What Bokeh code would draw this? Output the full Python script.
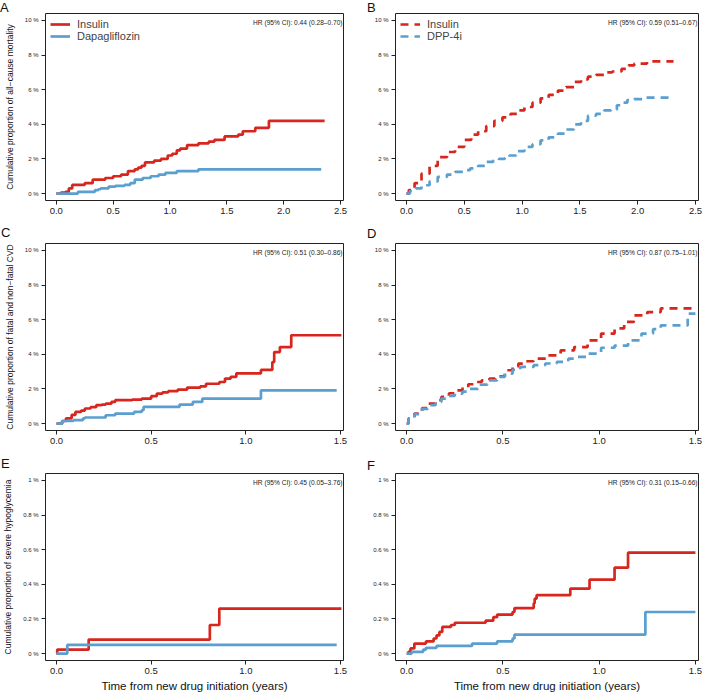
from bokeh.plotting import figure
from bokeh.layouts import gridplot, column
from bokeh.models import Label, FixedTicker, Range1d, Div
from bokeh.embed import file_html
from bokeh.resources import INLINE

FONT = "Liberation Sans"
RED = "#D7261E"
BLUE = "#5A9FD0"

# ---------------- data (cumulative %, step functions) ----------------
A_ins_t = [0, 0.04, 0.08, 0.11, 0.14, 0.25, 0.32, 0.43, 0.5, 0.57, 0.63, 0.69, 0.72, 0.75, 0.78, 0.86, 0.92,
           0.98, 1.02, 1.06, 1.09, 1.15, 1.25, 1.34, 1.39, 1.48, 1.6, 1.64, 1.75, 1.87, 2.36]
A_ins_v = [0, 0.05, 0.1, 0.3, 0.5, 0.6, 0.8, 0.9, 1.0, 1.1, 1.3, 1.4, 1.5, 1.6, 1.8, 1.9, 2.0,
           2.2, 2.3, 2.5, 2.6, 2.8, 2.9, 3.0, 3.1, 3.3, 3.4, 3.6, 3.8, 4.2, 4.2]
A_dap_t = [0, 0.19, 0.34, 0.37, 0.39, 0.46, 0.52, 0.6, 0.65, 0.69, 0.76, 0.83, 0.9, 0.96, 1.06, 1.25, 2.33]
A_dap_v = [0, 0.1, 0.2, 0.25, 0.3, 0.4, 0.45, 0.5, 0.6, 0.8, 0.9, 1.0, 1.1, 1.2, 1.3, 1.4, 1.4]

B_ins_t = [0, 0.02, 0.07, 0.13, 0.2, 0.27, 0.35, 0.42, 0.5, 0.56, 0.62, 0.69, 0.76, 0.83, 0.9, 0.96, 1.02,
           1.09, 1.16, 1.23, 1.31, 1.38, 1.45, 1.51, 1.57, 1.64, 1.71, 1.78, 1.86, 1.92, 1.97, 2.08, 2.31]
B_ins_v = [0, 0.2, 0.6, 1.15, 1.6, 2.1, 2.4, 2.7, 3.1, 3.4, 3.6, 3.9, 4.2, 4.4, 4.6, 4.8, 5.0,
           5.25, 5.5, 5.7, 5.95, 6.15, 6.45, 6.6, 6.75, 6.85, 7.0, 7.05, 7.2, 7.4, 7.5, 7.63, 7.63]
B_dpp_t = [0, 0.03, 0.08, 0.13, 0.2, 0.27, 0.35, 0.42, 0.5, 0.55, 0.62, 0.69, 0.75, 0.8, 0.85, 0.89, 0.95,
           1.02, 1.09, 1.16, 1.23, 1.31, 1.38, 1.45, 1.51, 1.57, 1.64, 1.71, 1.77, 1.82, 1.87, 1.91, 1.97,
           2.05, 2.31]
B_dpp_v = [0, 0.15, 0.3, 0.48, 0.7, 0.96, 1.1, 1.25, 1.35, 1.45, 1.6, 1.83, 1.92, 2.0, 2.05, 2.2, 2.45,
           2.7, 2.85, 3.07, 3.25, 3.46, 3.7, 4.0, 4.2, 4.5, 4.6, 4.8, 4.85, 5.1, 5.25, 5.4, 5.45,
           5.54, 5.54]

C_ins_t = [0, 0.03, 0.05, 0.08, 0.1, 0.13, 0.15, 0.18, 0.21, 0.24, 0.26, 0.29, 0.31, 0.4, 0.45, 0.5, 0.53,
           0.56, 0.59, 0.64, 0.69, 0.76, 0.79, 0.86, 0.89, 0.92, 0.95, 1.08, 1.14, 1.15, 1.18, 1.24, 1.505]
C_ins_v = [0, 0.15, 0.3, 0.5, 0.67, 0.75, 0.87, 0.95, 1.06, 1.1, 1.15, 1.25, 1.35, 1.38, 1.44, 1.58, 1.73,
           1.8, 1.87, 1.96, 2.08, 2.15, 2.3, 2.4, 2.6, 2.7, 2.9, 3.1, 3.55, 4.13, 4.42, 5.1, 5.1]
C_dap_t = [0, 0.03, 0.09, 0.14, 0.15, 0.26, 0.31, 0.41, 0.45, 0.46, 0.65, 0.72, 0.77, 1.08, 1.48]
C_dap_v = [0, 0.15, 0.2, 0.3, 0.35, 0.48, 0.58, 0.67, 0.77, 0.96, 1.1, 1.25, 1.44, 1.92, 1.92]

D_ins_t = [0, 0.01, 0.04, 0.08, 0.11, 0.15, 0.18, 0.22, 0.25, 0.29, 0.32, 0.36, 0.39, 0.43, 0.46, 0.51,
           0.55, 0.58, 0.62, 0.66, 0.73, 0.8, 0.87, 0.94, 1.01, 1.08, 1.13, 1.18, 1.25, 1.32, 1.49]
D_ins_v = [0, 0.3, 0.58, 0.9, 1.15, 1.35, 1.54, 1.75, 1.92, 2.1, 2.27, 2.4, 2.5, 2.6, 2.73, 3.08,
           3.3, 3.46, 3.6, 3.75, 3.94, 4.23, 4.42, 4.8, 5.2, 5.5, 5.87, 6.25, 6.44, 6.65, 6.65]
D_dpp_t = [0, 0.01, 0.04, 0.08, 0.11, 0.15, 0.18, 0.22, 0.25, 0.29, 0.32, 0.37, 0.42, 0.47, 0.51, 0.55,
           0.59, 0.66, 0.72, 0.78, 0.84, 0.89, 0.94, 1.01, 1.08, 1.15, 1.22, 1.28, 1.32, 1.46, 1.5]
D_dpp_v = [0, 0.3, 0.55, 0.85, 1.06, 1.25, 1.44, 1.6, 1.73, 1.85, 2.0, 2.25, 2.5, 2.7, 2.88, 3.1,
           3.27, 3.37, 3.47, 3.56, 3.75, 3.85, 4.04, 4.38, 4.5, 4.8, 5.2, 5.45, 5.67, 6.35, 6.35]

E_ins_t = [0, 0.004, 0.17, 0.81, 0.86, 1.505]
E_ins_v = [0, 0.023, 0.081, 0.165, 0.26, 0.26]
E_dap_t = [0, 0.057, 1.48]
E_dap_v = [0, 0.05, 0.05]

F_ins_t = [0, 0.009, 0.02, 0.04, 0.1, 0.14, 0.155, 0.17, 0.185, 0.23, 0.25, 0.41, 0.45, 0.47, 0.55, 0.56,
           0.66, 0.665, 0.675, 0.85, 0.95, 1.08, 1.15, 1.5]
F_ins_v = [0, 0.01, 0.03, 0.058, 0.07, 0.087, 0.105, 0.125, 0.154, 0.165, 0.178, 0.19, 0.21, 0.225, 0.24,
           0.263, 0.29, 0.317, 0.337, 0.375, 0.427, 0.496, 0.583, 0.583]
F_dpp_t = [0, 0.026, 0.086, 0.1, 0.155, 0.34, 0.47, 0.55, 0.56, 1.24, 1.5]
F_dpp_v = [0, 0.01, 0.023, 0.033, 0.044, 0.058, 0.071, 0.087, 0.11, 0.24, 0.24]

# tick labels
x_ticks_long = [0.0, 0.5, 1.0, 1.5, 2.0, 2.5]
x_ticks_short = [0.0, 0.5, 1.0, 1.5]
y_ticks_pct = [0, 2, 4, 6, 8, 10]
y_labels_pct = ["0 %", "2 %", "4 %", "6 %", "8 %", "10 %"]
y_ticks_small = [0, 0.2, 0.4, 0.6, 0.8, 1.0]
y_labels_small = ["0 %", "0.2 %", "0.4 %", "0.6 %", "0.8 %", "1 %"]

hr_texts = {
    "A": "HR (95% CI): 0.44 (0.28\u20130.70)",
    "B": "HR (95% CI): 0.59 (0.51\u20130.67)",
    "C": "HR (95% CI): 0.51 (0.30\u20130.86)",
    "D": "HR (95% CI): 0.87 (0.75\u20131.01)",
    "E": "HR (95% CI): 0.45 (0.05\u20133.76)",
    "F": "HR (95% CI): 0.31 (0.15\u20130.66)",
}
ylabels = {
    "A": "Cumulative proportion of all\u2212cause mortality",
    "C": "Cumulative proportion of fatal and non\u2212fatal CVD",
    "E": "Cumulative proportion of severe hypoglycemia",
}
xlabel = "Time from new drug initiation (years)"
panel_letters = ["A", "B", "C", "D", "E", "F"]

FRAME_W = 303
FRAME_H = 187


def make_panel(letter, col, row, series, xticks, yticks, ylabs, xr, yr, legend, dashed):
    left = col == 0
    bl = 40
    br = 12 if left else 11
    width = bl + FRAME_W + br
    top = 13
    bottom = 40 if row == 2 else 30
    height = top + FRAME_H + bottom
    p = figure(width=width, height=height, output_backend="svg", toolbar_location=None,
               x_range=Range1d(*xr), y_range=Range1d(*yr),
               min_border_left=bl, min_border_right=br,
               min_border_top=top, min_border_bottom=bottom)
    p.grid.visible = False
    p.outline_line_color = "#222222"
    p.outline_line_width = 1
    p.background_fill_color = "white"
    p.border_fill_color = "white"

    for ax in (p.xaxis[0], p.yaxis[0]):
        ax.axis_line_color = None
        ax.major_tick_line_color = "#222222"
        ax.minor_tick_line_color = None
        ax.major_tick_in = 0
        ax.major_tick_out = 4
        ax.major_label_text_font = FONT
        ax.major_label_text_color = "#222222"
        ax.axis_label_text_font = FONT
        ax.axis_label_text_font_style = "normal"
        ax.axis_label_text_color = "#111111"

    p.xaxis.ticker = FixedTicker(ticks=xticks)
    p.xaxis.major_label_overrides = {t: f"{t:.1f}" for t in xticks}
    p.xaxis.major_label_text_font_size = "9.5px"
    p.xaxis.major_label_standoff = 3
    if row == 2:
        p.xaxis.axis_label = xlabel
        p.xaxis.axis_label_text_font_size = "11.5px"
        p.xaxis.axis_label_standoff = 3

    p.yaxis.ticker = FixedTicker(ticks=yticks)
    p.yaxis.major_label_overrides = {t: l for t, l in zip(yticks, ylabs)}
    p.yaxis.major_label_text_font_size = "6px"
    p.yaxis.major_label_standoff = 3
    p.yaxis.major_label_orientation = "horizontal"
    if left:
        p.yaxis.axis_label = ylabels[letter]
        p.yaxis.axis_label_text_font_size = "8.5px"
        p.yaxis.axis_label_standoff = 7

    for (t, v, color, name) in series:
        kw = dict(mode="after", line_color=color, line_width=2.7)
        if dashed:
            kw["line_dash"] = "8 6"
        if legend:
            kw["legend_label"] = name
        p.step(t, v, **kw)

    if legend:
        lg = p.legend[0]
        lg.location = "top_left"
        lg.border_line_color = None
        lg.background_fill_alpha = 0
        lg.label_text_font = FONT
        lg.label_text_font_size = "11px"
        lg.glyph_width = 20
        lg.glyph_height = 12
        lg.label_height = 12
        lg.spacing = 0
        lg.padding = 5
        lg.margin = 5
        lg.label_standoff = 7

    # HR text: top-right inside the frame (canvas coordinates)
    p.add_layout(Label(x=width - br - 1, y=top + 9, x_units="canvas", y_units="canvas",
                       text=hr_texts[letter], text_font=FONT,
                       text_font_size="6.6px", text_align="right", text_baseline="middle",
                       text_color="#222222"))
    return p


xr_long = (-0.095, 2.526)
xr_short = (-0.058, 1.516)
yr_pct = (-0.4, 10.4)
yr_small = (-0.04, 1.04)

pA = make_panel("A", 0, 0, [(A_ins_t, A_ins_v, RED, "Insulin"), (A_dap_t, A_dap_v, BLUE, "Dapagliflozin")],
                x_ticks_long, y_ticks_pct, y_labels_pct, xr_long, yr_pct, True, False)
pB = make_panel("B", 1, 0, [(B_ins_t, B_ins_v, RED, "Insulin"), (B_dpp_t, B_dpp_v, BLUE, "DPP-4i")],
                x_ticks_long, y_ticks_pct, y_labels_pct, xr_long, yr_pct, True, True)
pC = make_panel("C", 0, 1, [(C_ins_t, C_ins_v, RED, "Insulin"), (C_dap_t, C_dap_v, BLUE, "Dapagliflozin")],
                x_ticks_short, y_ticks_pct, y_labels_pct, xr_short, yr_pct, False, False)
pD = make_panel("D", 1, 1, [(D_ins_t, D_ins_v, RED, "Insulin"), (D_dpp_t, D_dpp_v, BLUE, "DPP-4i")],
                x_ticks_short, y_ticks_pct, y_labels_pct, xr_short, yr_pct, False, True)
pE = make_panel("E", 0, 2, [(E_ins_t, E_ins_v, RED, "Insulin"), (E_dap_t, E_dap_v, BLUE, "Dapagliflozin")],
                x_ticks_short, y_ticks_small, y_labels_small, xr_short, yr_small, False, False)
pF = make_panel("F", 1, 2, [(F_ins_t, F_ins_v, RED, "Insulin"), (F_dpp_t, F_dpp_v, BLUE, "DPP-4i")],
                x_ticks_short, y_ticks_small, y_labels_small, xr_short, yr_small, False, False)

grid = gridplot([[pA, pB], [pC, pD], [pE, pF]], toolbar_location=None)

# panel letters as overlaid text (left/top offsets in px relative to the layout origin)
letter_pos = [(0, 0), (367, 0), (1, 225), (367, 226), (1, 456), (367, 458)]
divs = []
for letter, (lx, ly) in zip(panel_letters, letter_pos):
    divs.append(Div(text=letter, width=14, height=15, margin=0,
                    styles={"position": "absolute", "left": f"{lx}px", "top": f"{ly}px",
                            "font-family": FONT, "font-size": "13px", "color": "#111111",
                            "line-height": "15px", "z-index": "10"}))

layout = column(grid, *divs, spacing=0)

with open("out.html", "w") as f:
    f.write(file_html(layout, INLINE))
